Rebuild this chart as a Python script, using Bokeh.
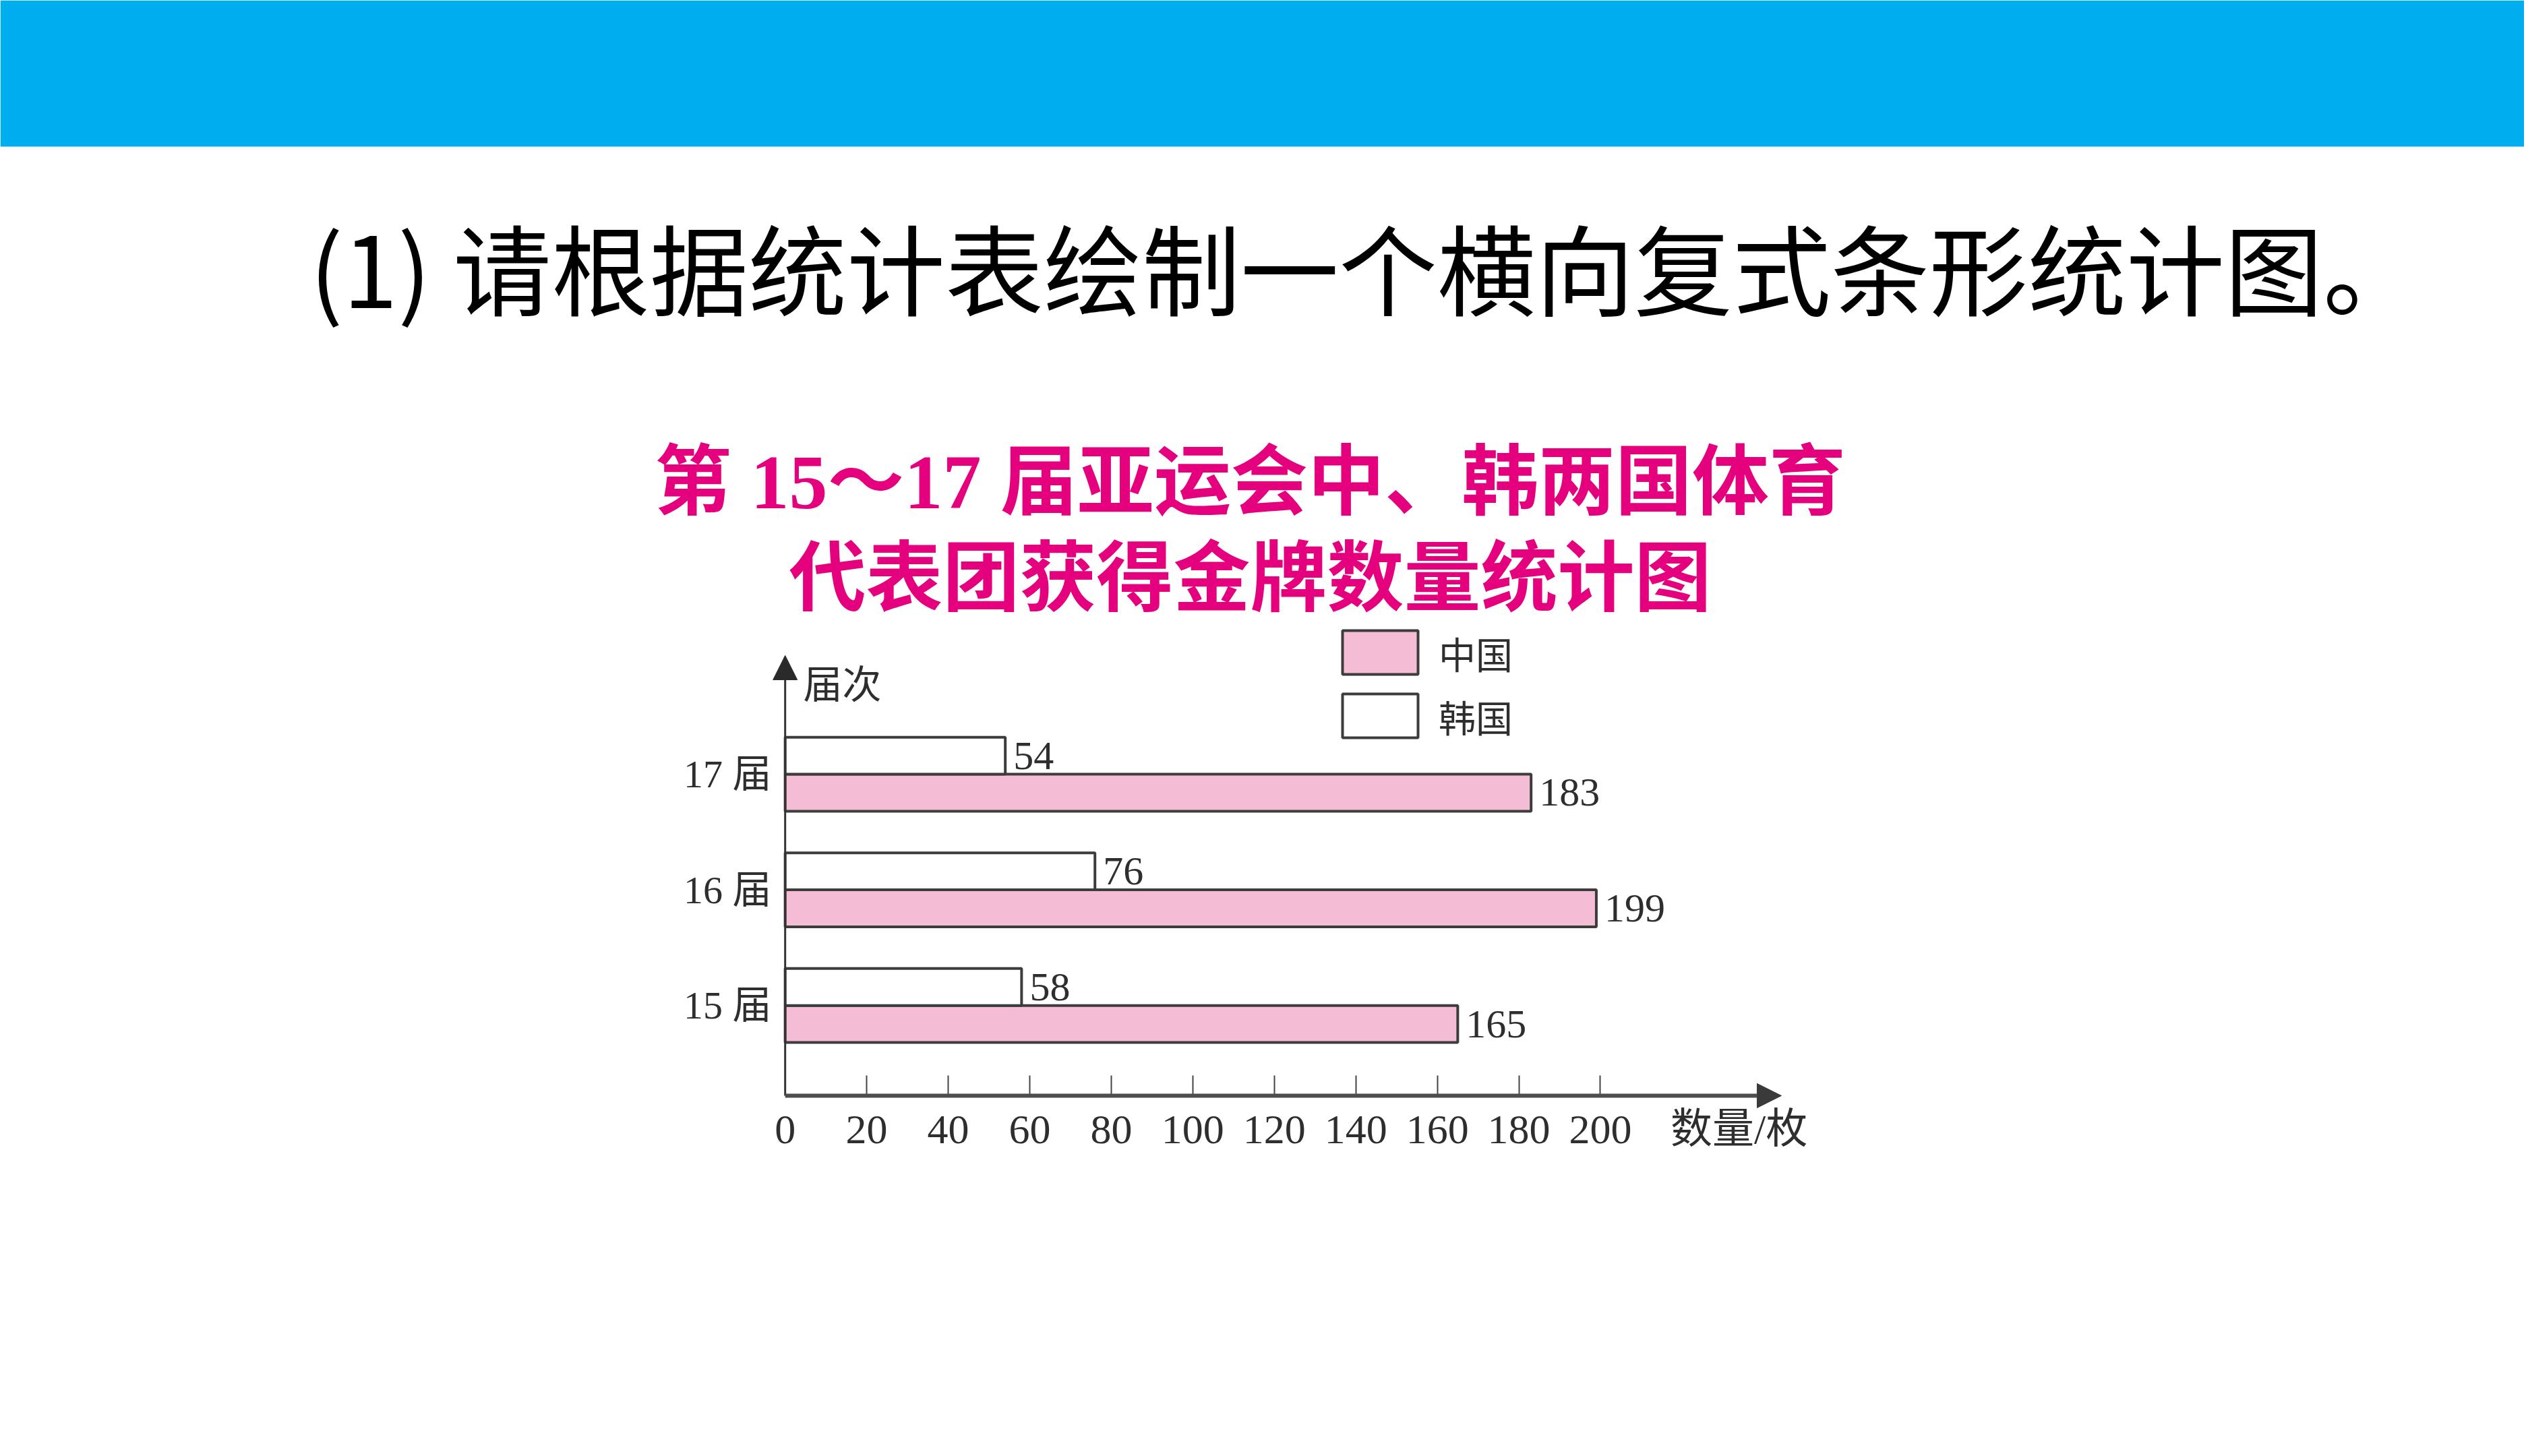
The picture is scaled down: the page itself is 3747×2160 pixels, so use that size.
from bokeh.plotting import figure
from bokeh.models import (ColumnDataSource, Range1d, FixedTicker, Label, LabelSet,
                          BoxAnnotation, Arrow, NormalHead, Legend, LegendItem)
from bokeh.transform import dodge
from bokeh.core.properties import value
from bokeh.embed import file_html
from bokeh.resources import INLINE

# ---------------- data ----------------
editions = ["15 届", "16 届", "17 届"]
china = [165, 199, 183]
korea = [58, 76, 54]
series_names = ["中国", "韩国"]
x_ticks = [0, 20, 40, 60, 80, 100, 120, 140, 160, 180, 200]
heading = "(1) 请根据统计表绘制一个横向复式条形统计图。"
title_lines = ["第 15～17 届亚运会中、韩两国体育", "代表团获得金牌数量统计图"]
y_axis_name = "届次"
x_axis_name = "数量/枚"

# ---------------- layout constants ----------------
W, H = 3744, 2156
HT = 925                       # height of the heading strip
HC = H - HT                    # height of the chart figure
PAD = 24                       # frame extends this far past the drawn axis lines
FRAME_L = 1164 - PAD           # frame left (px)
FRAME_H = 700 + PAD            # frame height (px)
XMIN, XMAX = -4, 254
YAX = -0.78                    # where the x axis line sits
Y0, Y1 = -0.92, 3.30
XTIP, YTIP = 244.4, 3.026
XNAME = 234                    # position of the x axis name among the tick labels
OFF = 0.16
BAR_H = 0.32

PINK = "#F5BCD5"
MAGENTA = "#E5007E"
BLUE = "#00AEEF"
EDGE = "#3c3c3c"
TXT = "#2e2e2e"

# ---------------- heading strip (own root, frame = whole canvas) ----------------
top = figure(width=W, height=HT, x_range=Range1d(0, W), y_range=Range1d(HT, 0),
             output_backend="svg", toolbar_location=None,
             x_axis_type=None, y_axis_type=None,
             min_border_left=0, min_border_right=0, min_border_top=0, min_border_bottom=0)
top.outline_line_color = None
top.grid.visible = False
top.background_fill_color = "white"
top.border_fill_color = "white"

top.add_layout(BoxAnnotation(left=0, right=W, top=0, bottom=217,
                             fill_color=BLUE, fill_alpha=1.0, line_color=None))
top.add_layout(Label(x=459, y=393, text=heading, text_font="Noto Sans CJK SC",
                     text_font_size="146px", text_color="black",
                     text_baseline="middle", text_align="left"))
for line, fy in zip(title_lines, (715, 858)):
    top.add_layout(Label(x=1854, y=fy, text=line,
                         text_font="Liberation Serif, Noto Sans CJK SC",
                         text_font_size="114px", text_font_style="bold",
                         text_color=MAGENTA, text_baseline="middle", text_align="center"))

# ---------------- chart ----------------
idx = list(range(len(editions)))
src = ColumnDataSource(dict(
    idx=idx, china=china, korea=korea,
    china_txt=[str(v) for v in china], korea_txt=[str(v) for v in korea]))

p = figure(width=W, height=HC, x_range=Range1d(XMIN, XMAX), y_range=Range1d(Y0, Y1),
           output_backend="svg", toolbar_location=None,
           min_border_left=FRAME_L, min_border_right=W - 2700,
           min_border_top=0, min_border_bottom=HC - FRAME_H)
p.outline_line_color = None
p.grid.visible = False
p.background_fill_color = "white"
p.border_fill_color = "white"

r_china = p.hbar(y=dodge("idx", -OFF), right="china", left=0, height=BAR_H, source=src,
                 fill_color=PINK, line_color=EDGE, line_width=4)
r_korea = p.hbar(y=dodge("idx", OFF), right="korea", left=0, height=BAR_H, source=src,
                 fill_color="white", line_color=EDGE, line_width=4)

for col, off in (("china", -OFF), ("korea", OFF)):
    p.add_layout(LabelSet(x=col, y=dodge("idx", off), text=col + "_txt", source=src,
                          x_offset=12, text_baseline="middle", text_align="left",
                          text_font=value("Liberation Serif"), text_font_size="60px",
                          text_color=TXT))

# x axis (at the frame edge, PAD below the drawn axis line):
# labels as major ticks (no marks), tick marks as minor ticks shifted up by PAD
xa = p.xaxis[0]
xa.ticker = FixedTicker(ticks=x_ticks + [XNAME], minor_ticks=x_ticks[1:])
xa.major_label_overrides = {XNAME: x_axis_name}
xa.axis_line_color = None
xa.major_tick_line_color = None
xa.major_tick_in = 0
xa.major_tick_out = 0
xa.minor_tick_in = 30 + PAD
xa.minor_tick_out = -PAD
xa.minor_tick_line_color = "#444444"
xa.minor_tick_line_width = 2
xa.major_label_standoff = 15 - PAD
xa.major_label_text_font = "Liberation Serif, Noto Sans CJK SC"
xa.major_label_text_font_size = "62px"
xa.major_label_text_color = TXT

ya = p.yaxis[0]
ya.ticker = FixedTicker(ticks=idx)
ya.major_label_overrides = {i: name for i, name in zip(idx, editions)}
ya.axis_line_color = None
ya.major_tick_line_color = None
ya.minor_tick_line_color = None
ya.major_tick_in = 0
ya.major_tick_out = 0
ya.major_label_standoff = 20 - PAD
ya.major_label_text_font = "Liberation Serif, Noto Sans CJK SC"
ya.major_label_text_font_size = "58px"
ya.major_label_text_color = TXT

# axis lines with arrow heads
p.add_layout(Arrow(end=NormalHead(size=36, fill_color="#2a2a2a", line_color="#2a2a2a"),
                   x_start=0, y_start=YAX, x_end=0, y_end=YTIP,
                   line_color="#333333", line_width=3))
p.add_layout(Arrow(end=NormalHead(size=36, fill_color="#3a3a3a", line_color="#3a3a3a"),
                   x_start=0, y_start=YAX, x_end=XTIP, y_end=YAX,
                   line_color="#4d4d4d", line_width=6))

legend = Legend(items=[LegendItem(label=series_names[0], renderers=[r_china]),
                       LegendItem(label=series_names[1], renderers=[r_korea])],
                location=(813 + PAD, 523 + PAD), orientation="vertical",
                glyph_width=140, glyph_height=81, spacing=13, label_standoff=17,
                label_text_font="Noto Sans CJK SC", label_text_font_size="55px",
                label_text_color=TXT, padding=0, margin=0,
                border_line_color=None, background_fill_alpha=0)
p.add_layout(legend)

p.add_layout(Label(x=27 + PAD, y=615 + PAD, x_units="screen", y_units="screen",
                   text=y_axis_name, text_font="Noto Sans CJK SC", text_font_size="58px",
                   text_color=TXT, text_baseline="middle", text_align="left"))

open("out.html", "w").write(file_html([top, p], INLINE))
